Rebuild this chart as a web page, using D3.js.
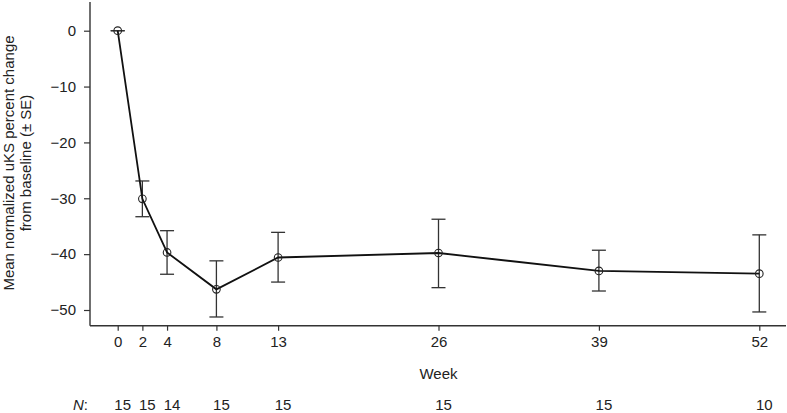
<!DOCTYPE html>
<html>
<head>
<meta charset="utf-8">
<script src="https://cdn.jsdelivr.net/npm/d3@7"></script>
<style>
  html, body { margin: 0; padding: 0; background: #fff; }
  svg { display: block; }
  text { font-family: "Liberation Sans", Arial, Helvetica, sans-serif; fill: #222; }
</style>
</head>
<body>
<svg id="chart" width="787" height="413"></svg>
<script>
// ---- data ----
const weeks   = [0, 2, 4, 8, 13, 26, 39, 52];
const means   = [0, -30.1, -39.7, -46.3, -40.6, -39.8, -43.0, -43.5];
const upper   = [0, -26.9, -35.8, -41.2, -36.1, -33.75, -39.3, -36.55];
const lower   = [0, -33.3, -43.6, -51.25, -45.0, -46.0, -46.6, -50.35];
const nCounts = [15, 15, 14, 15, 15, 15, 15, 10];
const yTicks  = [0, -10, -20, -30, -40, -50];
const xLabel  = "Week";
const yLabel1 = "Mean normalized uKS percent change";
const yLabel2 = "from baseline (\u00B1 SE)";

// ---- layout ----
const svg = d3.select("#chart");
const axisX0 = 90, axisX1 = 786;   // extent of x axis line
const axisY0 = 2, axisY1 = 325.7;  // extent of y axis line

const x = d3.scaleLinear().domain([0, 52]).range([117.7, 759.3]);
const y = d3.scaleLinear().domain([0, -50]).range([30.7, 310]);

const axisColor = "#333";

// y axis
const gy = svg.append("g").attr("transform", `translate(${axisX0},0)`)
  .call(d3.axisLeft(y).tickValues(yTicks).tickSize(6).tickPadding(8).tickSizeOuter(0));
gy.select(".domain").remove();
gy.selectAll(".tick line").attr("stroke", axisColor).attr("stroke-width", 1.2);
gy.selectAll(".tick text").style("font-size", "15px").attr("fill", "#222")
  .style("font-family", '"Liberation Sans", Arial, sans-serif');
svg.append("line").attr("x1", axisX0).attr("x2", axisX0).attr("y1", axisY0).attr("y2", axisY1)
  .attr("stroke", axisColor).attr("stroke-width", 1.4);

// x axis
const gx = svg.append("g").attr("transform", `translate(0,${axisY1})`)
  .call(d3.axisBottom(x).tickValues(weeks).tickSize(5).tickPadding(6).tickSizeOuter(0));
gx.select(".domain").remove();
gx.selectAll(".tick line").attr("stroke", axisColor).attr("stroke-width", 1.2);
gx.selectAll(".tick text").style("font-size", "15px").attr("fill", "#222")
  .style("font-family", '"Liberation Sans", Arial, sans-serif');
svg.append("line").attr("x1", axisX0).attr("x2", axisX1).attr("y1", axisY1).attr("y2", axisY1)
  .attr("stroke", axisColor).attr("stroke-width", 1.4);

// x label
svg.append("text").attr("x", x(26)).attr("y", 378.7).attr("text-anchor", "middle")
  .style("font-size", "15px").text(xLabel);

// y label (two lines, rotated)
const yl = svg.append("text").attr("transform", `translate(0,163) rotate(-90)`)
  .attr("text-anchor", "middle").style("font-size", "15px");
yl.append("tspan").attr("x", 0).attr("y", 13.6).text(yLabel1);
yl.append("tspan").attr("x", 0).attr("y", 31).text(yLabel2);

// N row
const nBase = 409.8;
const nRow = svg.append("text").attr("x", 73).attr("y", nBase).style("font-size", "15px");
nRow.append("tspan").style("font-style", "italic").text("N");
nRow.append("tspan").text(":");
svg.append("g").selectAll("text").data(weeks).join("text")
  .attr("x", d => x(d) + 5).attr("y", nBase).attr("text-anchor", "middle")
  .style("font-size", "15px").text((d, i) => nCounts[i]);

// data rows
const rows = weeks.map((w, i) => ({ w, m: means[i], u: upper[i], l: lower[i] }));

// error bars
const eb = svg.append("g").attr("stroke", "#333").attr("stroke-width", 1.3).attr("fill", "none");
const cap = 7;
rows.forEach(d => {
  eb.append("line").attr("x1", x(d.w)).attr("x2", x(d.w)).attr("y1", y(d.u)).attr("y2", y(d.l));
  eb.append("line").attr("x1", x(d.w) - cap).attr("x2", x(d.w) + cap).attr("y1", y(d.u)).attr("y2", y(d.u));
  eb.append("line").attr("x1", x(d.w) - cap).attr("x2", x(d.w) + cap).attr("y1", y(d.l)).attr("y2", y(d.l));
});

// mean line
svg.append("path").datum(rows)
  .attr("d", d3.line().x(d => x(d.w)).y(d => y(d.m)))
  .attr("fill", "none").attr("stroke", "#111").attr("stroke-width", 1.8);

// open circles
svg.append("g").selectAll("circle").data(rows).join("circle")
  .attr("cx", d => x(d.w)).attr("cy", d => y(d.m)).attr("r", 3.8)
  .attr("fill", "none").attr("stroke", "#222").attr("stroke-width", 1.1);
</script>
</body>
</html>
